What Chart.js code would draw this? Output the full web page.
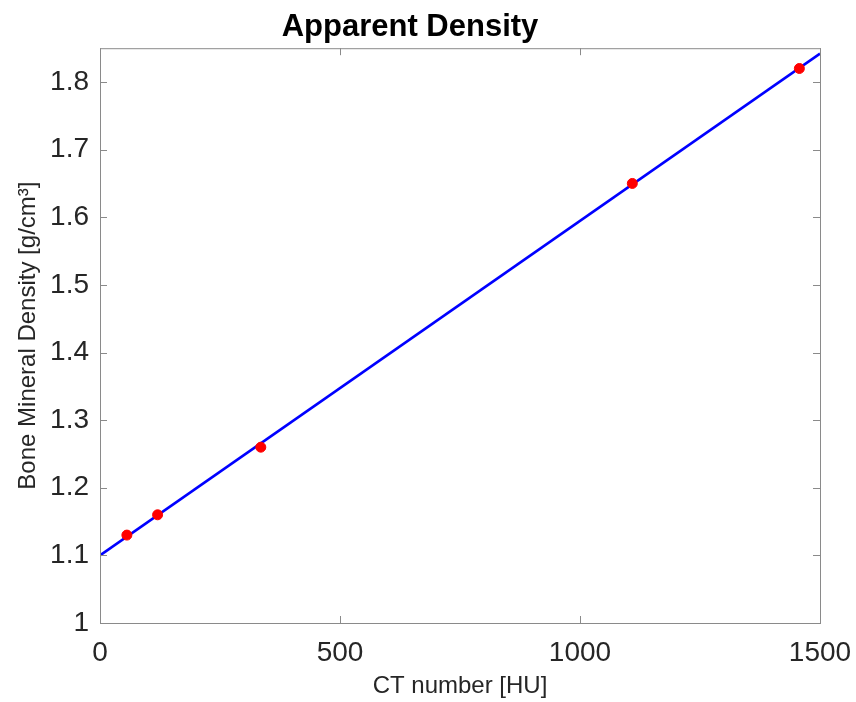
<!DOCTYPE html>
<html>
<head>
<meta charset="utf-8">
<script src="https://cdn.jsdelivr.net/npm/chart.js@4.4.1/dist/chart.umd.min.js"></script>
<style>
  html, body { margin: 0; padding: 0; background: #fff; }
  #wrap { width: 856px; height: 702px; }
</style>
</head>
<body>
<div id="wrap"><canvas id="chartBmd"></canvas></div>
<script>
// measured phantom points
const ctNumber = [56, 120, 335, 1109, 1457];
const bmd = [1.13, 1.16, 1.26, 1.65, 1.82];
// fitted line, end points
const fitCt = [0, 1500];
const fitBmd = [1.1, 1.842];

const xMin = 0, xMax = 1500, xStep = 500;
const yMin = 1, yMax = 1.85, yStep = 0.1;

const font = '"Liberation Sans", Arial, Helvetica, sans-serif';
const axisGray = '#8a8a8a';
const textColor = '#262626';

// MATLAB style box with inward ticks
const boxTicks = {
  id: 'boxTicks',
  afterDraw(chart) {
    const ctx = chart.ctx;
    const a = chart.chartArea;
    const len = 7;
    ctx.save();
    ctx.strokeStyle = axisGray;
    ctx.lineWidth = 1;
    ctx.strokeRect(a.left + 0.5, a.top + 0.5, a.right - a.left, a.bottom - a.top);
    ctx.beginPath();
    chart.scales.x.ticks.forEach(t => {
      const px = Math.round(chart.scales.x.getPixelForValue(t.value)) + 0.5;
      ctx.moveTo(px, a.bottom);
      ctx.lineTo(px, a.bottom - len);
      ctx.moveTo(px, a.top);
      ctx.lineTo(px, a.top + len);
    });
    chart.scales.y.ticks.forEach(t => {
      const py = Math.round(chart.scales.y.getPixelForValue(t.value)) + 0.5;
      ctx.moveTo(a.left, py);
      ctx.lineTo(a.left + len, py);
      ctx.moveTo(a.right, py);
      ctx.lineTo(a.right - len, py);
    });
    ctx.stroke();
    ctx.restore();
  }
};

const data = {
  datasets: [
    {
      type: 'line',
      label: 'Fit',
      data: fitCt.map((x, i) => ({ x: x, y: fitBmd[i] })),
      borderColor: '#0000ff',
      backgroundColor: '#0000ff',
      borderWidth: 2.5,
      pointRadius: 0,
      order: 2,
    },
    {
      type: 'scatter',
      label: 'Measured',
      data: ctNumber.map((x, i) => ({ x: x, y: bmd[i] })),
      backgroundColor: '#ff0000',
      borderColor: '#ff0000',
      pointRadius: 5,
      order: 1,
    },
  ],
};

const config = {
  type: 'scatter',
  data: data,
  plugins: [boxTicks],
  options: {
    responsive: true,
    maintainAspectRatio: false,
    animation: false,
    layout: { padding: { left: 0, right: 36, top: 0, bottom: 0 } },
    plugins: {
      legend: { display: false },
      tooltip: { enabled: false },
      title: {
        display: true,
        text: 'Apparent Density',
        color: '#000',
        font: { family: font, size: 31, weight: 'bold', lineHeight: 1.2 },
        padding: { top: 9, bottom: 2 },
      },
    },
    scales: {
      x: {
        type: 'linear',
        min: xMin,
        max: xMax,
        grid: { drawOnChartArea: false, drawTicks: false },
        border: { display: false },
        ticks: {
          stepSize: xStep,
          color: textColor,
          padding: 13,
          maxRotation: 0,
          font: { family: font, size: 28 },
          callback: v => String(v),
        },
        title: {
          display: true,
          text: 'CT number [HU]',
          color: textColor,
          font: { family: font, size: 24 },
          padding: { top: 0, bottom: 1 },
        },
        afterFit: s => {
          s.height = 79;
          s.paddingRight = 0;
          s.paddingLeft = 0;
        },
      },
      y: {
        type: 'linear',
        min: yMin,
        max: yMax,
        grid: { drawOnChartArea: false, drawTicks: false },
        border: { display: false },
        ticks: {
          stepSize: yStep,
          color: textColor,
          padding: 11,
          font: { family: font, size: 28 },
          callback: v => String(+v.toFixed(2)),
        },
        afterBuildTicks: s => {
          s.ticks = s.ticks.filter(t => Math.abs(t.value * 10 - Math.round(t.value * 10)) < 1e-6);
        },
        title: {
          display: true,
          text: 'Bone Mineral Density [g/cm³]',
          color: textColor,
          font: { family: font, size: 24 },
          padding: { top: 14, bottom: 0 },
        },
        afterFit: s => {
          s.width = 100;
          s.paddingTop = 0;
          s.paddingBottom = 0;
        },
      },
    },
  },
};

const chartBmd = new Chart(document.getElementById('chartBmd'), config);
</script>
</body>
</html>
